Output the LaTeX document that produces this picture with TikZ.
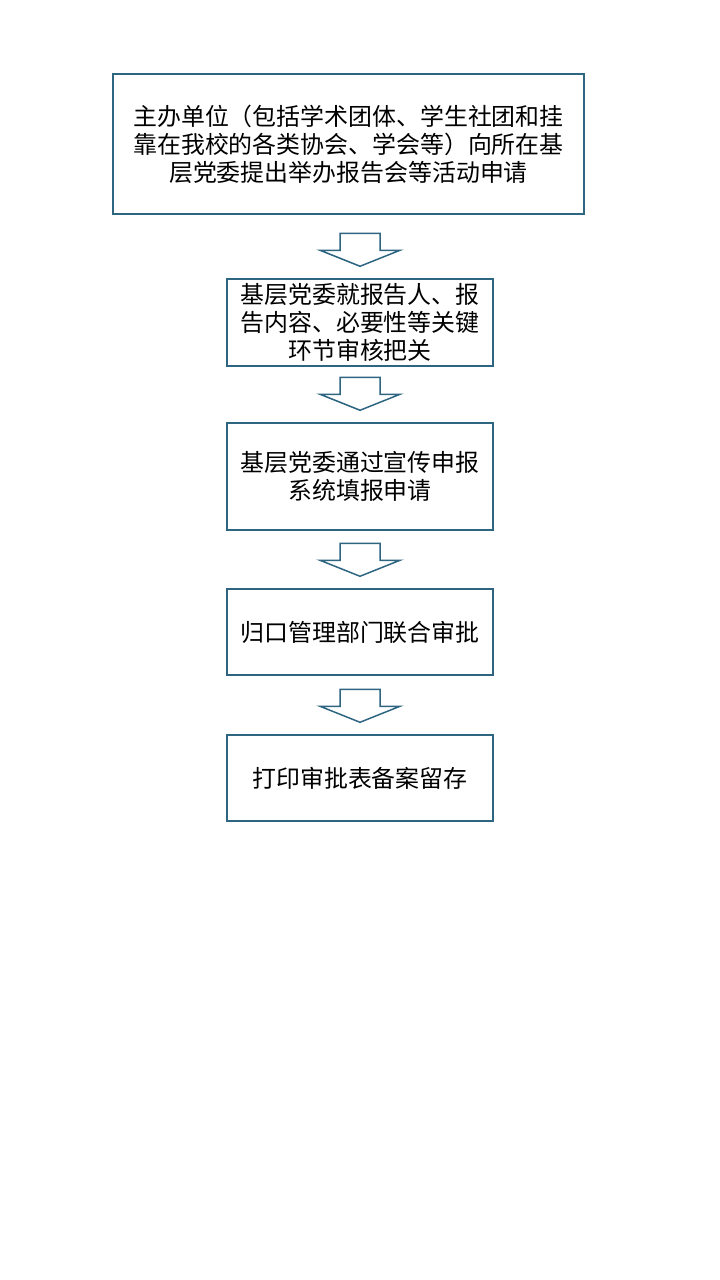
\documentclass[tikz,border=0pt]{standalone}
\usepackage{fontspec}
\newfontfamily\cjk{Noto Sans CJK SC}
\usetikzlibrary{calc}
\definecolor{boxline}{RGB}{46,101,128}

\begin{document}
\begin{tikzpicture}[x=1bp, y=-1bp,
    stepbox/.style={draw=boxline, line width=1.5bp, inner sep=0pt, align=center,
        font=\cjk\fontsize{24}{28}\selectfont},
    flowarrow/.style={draw=boxline, line width=1.5bp, line join=miter}]
        \useasboundingbox[fill=white] (0,0) rectangle (720,1280);
        % boxes
        \node[stepbox, minimum width=471bp, minimum height=140bp] (apply) at (348.5,144)
            {主办单位（包括学术团体、学生社团和挂\\靠在我校的各类协会、学会等）向所在基\\层党委提出举办报告会等活动申请};
        \node[stepbox, minimum width=266bp, minimum height=87bp] (review) at (360,322.5)
            {基层党委就报告人、报\\告内容、必要性等关键\\环节审核把关};
        \node[stepbox, minimum width=266bp, minimum height=107bp] (report) at (360,476.5)
            {基层党委通过宣传申报\\系统填报申请};
        \node[stepbox, minimum width=266bp, minimum height=86bp] (approve) at (360,632)
            {归口管理部门联合审批};
        \node[stepbox, minimum width=266bp, minimum height=86bp] (record) at (360,778)
            {打印审批表备案留存};
        % hollow block arrows, tip just above the next box
        \foreach \b in {review,report,approve,record}
            \draw[flowarrow] ($(\b.north)+(0,-12)$) -- ++(-40,-16) -- ++(20,0) -- ++(0,-17)
                -- ++(40,0) -- ++(0,17) -- ++(20,0) -- cycle;
    \end{tikzpicture}
\end{document}
